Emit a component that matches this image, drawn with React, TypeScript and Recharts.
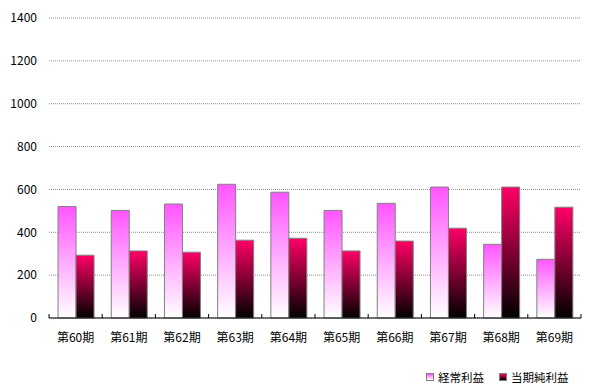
import React from 'react';
import { BarChart, Bar, XAxis, YAxis, CartesianGrid } from 'recharts';

const periods = ['第60期', '第61期', '第62期', '第63期', '第64期', '第65期', '第66期', '第67期', '第68期', '第69期'];
const ordinaryProfit = [520, 502, 532, 624, 587, 502, 535, 611, 344, 274];
const netProfit = [293, 313, 307, 363, 372, 313, 359, 419, 611, 517];
const yTicks = [0, 200, 400, 600, 800, 1000, 1200, 1400];

const seriesNames = ['経常利益', '当期純利益'];

const chartData = periods.map((name, i) => ({
  name,
  ordinary: ordinaryProfit[i],
  net: netProfit[i],
}));

const FONT = '"Noto Sans CJK JP", "Noto Sans", sans-serif';

const CHART_W = 592;
const CHART_H = 389;
const X_HEIGHT = 30;
const MARGIN = { top: 18, right: 11, left: 4, bottom: 71 - X_HEIGHT };
const Y_WIDTH = 45;
const PLOT_W = CHART_W - MARGIN.left - MARGIN.right - Y_WIDTH;

// X tick: label centred on the category, small tick marks on band edges
const CategoryTick = (props: any) => {
  const { x, y, payload, index } = props;
  const bw = PLOT_W / periods.length;
  const axisY = y - 8;
  return (
    <g>
      <line x1={x - bw / 2} x2={x - bw / 2} y1={axisY} y2={axisY - 4} stroke="#000" />
      {index === periods.length - 1 && (
        <line x1={x + bw / 2} x2={x + bw / 2} y1={axisY} y2={axisY - 4} stroke="#000" />
      )}
      <text x={x} y={axisY + 24} textAnchor="middle" fontSize={12} fill="#000" fontFamily={FONT}>
        {payload.value}
      </text>
    </g>
  );
};

// legend drawn as plain html, bottom right
const LegendBox = () => {
  const swatches = [
    'linear-gradient(#ff55ff, #ffffff)',
    'linear-gradient(#ff0066, #000000)',
  ];
  return (
    <div
      style={{
        position: 'absolute',
        left: 426,
        top: 369,
        display: 'flex',
        alignItems: 'center',
        fontFamily: FONT,
        fontSize: 11.5,
        lineHeight: '16px',
        color: '#000',
      }}
    >
      {seriesNames.map((n, i) => (
        <div key={n} style={{ display: 'flex', alignItems: 'center', marginLeft: i ? 15 : 0 }}>
          <span
            style={{
              display: 'inline-block',
              width: 6,
              height: 6,
              border: '1px solid #808080',
              background: swatches[i],
              marginRight: 4,
            }}
          />
          <span>{n}</span>
        </div>
      ))}
    </div>
  );
};

export default function App() {
  return (
    <div style={{ position: 'absolute', left: 0, top: 0, width: CHART_W, height: CHART_H, background: '#fff' }}>
      <BarChart
        width={CHART_W}
        height={CHART_H}
        data={chartData}
        margin={MARGIN}
        barCategoryGap="17%"
        barGap={0}
      >
        <defs>
          <linearGradient id="gradOrdinary" x1="0" y1="0" x2="0" y2="1">
            <stop offset="0%" stopColor="#ff55ff" />
            <stop offset="100%" stopColor="#ffffff" />
          </linearGradient>
          <linearGradient id="gradNet" x1="0" y1="0" x2="0" y2="1">
            <stop offset="0%" stopColor="#ff0066" />
            <stop offset="100%" stopColor="#000000" />
          </linearGradient>
        </defs>
        <CartesianGrid vertical={false} stroke="#8c8c8c" strokeDasharray="1 1" />
        <XAxis
          dataKey="name"
          height={X_HEIGHT}
          axisLine={{ stroke: '#000' }}
          tickLine={false}
          tick={<CategoryTick />}
          interval={0}
        />
        <YAxis
          width={Y_WIDTH}
          domain={[0, 1400]}
          ticks={yTicks}
          axisLine={false}
          tickLine={false}
          tickMargin={6}
          tick={{ fontSize: 12, fill: '#000', fontFamily: FONT }}
        />
        <Bar dataKey="ordinary" name={seriesNames[0]} fill="url(#gradOrdinary)" stroke="#808080" strokeWidth={1} isAnimationActive={false} />
        <Bar dataKey="net" name={seriesNames[1]} fill="url(#gradNet)" stroke="#808080" strokeWidth={1} isAnimationActive={false} />
      </BarChart>
      <LegendBox />
    </div>
  );
}
